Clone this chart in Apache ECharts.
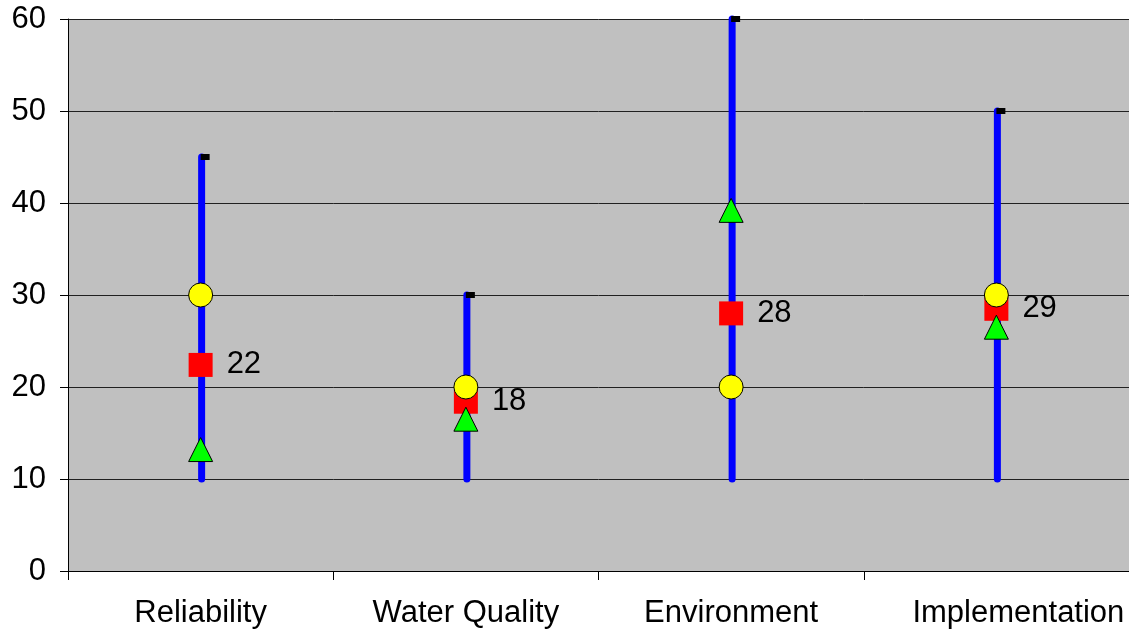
<!DOCTYPE html>
<html>
<head>
<meta charset="utf-8">
<script src="https://cdn.jsdelivr.net/npm/echarts@6/dist/echarts.min.js"></script>
<style>
  html, body { margin: 0; padding: 0; background: #fff; }
  #main { width: 1129px; height: 632px; }
</style>
</head>
<body>
<div id="main"></div>
<script>
// categories and values
var categories = ['Reliability', 'Water Quality', 'Environment', 'Implementation'];
var lowValues = [10, 10, 10, 10];
var highValues = [45, 30, 60, 50];
var meanValues = [22.4, 18.4, 28.0, 28.5];
var circleValues = [30, 20, 20, 30];
var triangleValues = [13.2, 16.5, 39.2, 26.5];
var yTicks = [0, 10, 20, 30, 40, 50, 60];

var fontFamily = '"Liberation Sans", Arial, sans-serif';

var rangeData = categories.map(function (c, i) {
    return [i, lowValues[i], highValues[i]];
});

var chart = echarts.init(document.getElementById('main'));
var option = {
    animation: false,
    grid: {
        left: 68, right: 0, top: 19, bottom: 61,
        show: true,
        backgroundColor: '#c0c0c0',
        borderWidth: 0
    },
    xAxis: {
        type: 'category',
        data: categories,
        boundaryGap: true,
        axisLine: { lineStyle: { color: '#000', width: 1 } },
        axisTick: { show: true, interval: 0, length: 9, lineStyle: { color: '#000' } },
        axisLabel: {
            interval: 0,
            hideOverlap: false,
            color: '#000',
            fontFamily: fontFamily,
            fontSize: 31,
            margin: 27,
            // last label sits a bit to the right in the original
            formatter: function (v, i) {
                return i === categories.length - 1 ? '{last|' + v + '}' : v;
            },
            rich: {
                last: {
                    color: '#000',
                    fontFamily: fontFamily,
                    fontSize: 31,
                    padding: [0, 0, 0, 44]
                }
            }
        },
        splitLine: { show: false }
    },
    yAxis: {
        type: 'value',
        min: yTicks[0],
        max: yTicks[yTicks.length - 1],
        interval: 10,
        axisLine: { show: true, lineStyle: { color: '#000', width: 1 } },
        axisTick: { show: true, length: 8, lineStyle: { color: '#000' } },
        axisLabel: {
            color: '#000',
            fontFamily: fontFamily,
            fontSize: 31,
            margin: 22
        },
        splitLine: { show: true, lineStyle: { color: '#202020', width: 1 } }
    },
    series: [
        {
            // blue range line with small black dash at top
            type: 'custom',
            data: rangeData,
            z: 2,
            renderItem: function (params, api) {
                var lo = api.coord([api.value(0), api.value(1)]);
                var hi = api.coord([api.value(0), api.value(2)]);
                return {
                    type: 'group',
                    children: [
                        {
                            type: 'line',
                            shape: { x1: lo[0] + 1, y1: lo[1], x2: hi[0] + 1, y2: hi[1] },
                            style: { stroke: '#0000ff', lineWidth: 7, lineCap: 'round' }
                        },
                        {
                            type: 'rect',
                            shape: { x: hi[0], y: hi[1] - 3, width: 9, height: 6 },
                            style: { fill: '#000' }
                        }
                    ]
                };
            }
        },
        {
            type: 'scatter',
            data: meanValues,
            symbol: 'rect',
            symbolSize: 24,
            z: 3,
            itemStyle: { color: '#ff0000', opacity: 1 },
            label: {
                show: true,
                position: 'right',
                distance: 14,
                color: '#000',
                fontFamily: fontFamily,
                fontSize: 31,
                formatter: function (p) { return Math.round(p.value); }
            }
        },
        {
            type: 'scatter',
            data: triangleValues,
            symbol: 'triangle',
            symbolSize: [24, 24],
            z: 4,
            itemStyle: { color: '#00ff00', borderColor: '#000', borderWidth: 1, opacity: 1 }
        },
        {
            type: 'scatter',
            data: circleValues,
            symbol: 'circle',
            symbolSize: 24,
            z: 5,
            itemStyle: { color: '#ffff00', borderColor: '#000', borderWidth: 1, opacity: 1 }
        }
    ]
};
chart.setOption(option);
</script>
</body>
</html>
